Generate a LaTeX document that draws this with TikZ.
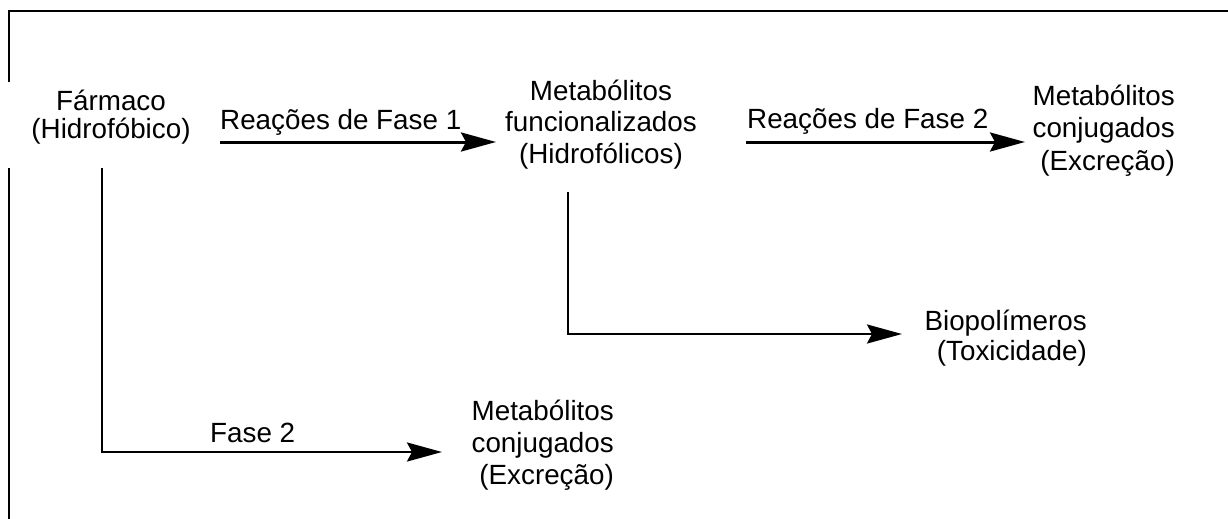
\documentclass[tikz,border=0pt]{standalone}
\usepackage{fontspec}
\setmainfont{Liberation Sans}
\usetikzlibrary{arrows.meta}
\begin{document}
\begin{tikzpicture}[x=1pt,y=-1pt,
  txt/.style={font=\fontsize{27.8}{32}\selectfont, inner sep=0pt},
  frameline/.style={line width=1.8pt},
  vline/.style={line width=2pt},
  arr/.style={line width=3pt, -{Stealth[length=35pt,width=19pt,inset=5pt]}},
  elbowarr/.style={line width=2.6pt, -{Stealth[length=35pt,width=19pt,inset=5pt]}}
]
\useasboundingbox (0,0) rectangle (1228,519);
% frame
\draw[frameline] (9,82) -- (9,11) -- (1228,11);
\draw[frameline] (9,168) -- (9,519);
% nodes (base anchor = baseline of last line)
\node[txt, anchor=base, align=center, font=\fontsize{27.8}{28}\selectfont] (farm) at (111,138) {Fármaco\\(Hidrofóbico)};
\node[txt, anchor=base, align=center, font=\fontsize{27.8}{31.3}\selectfont] (mid) at (601,163) {Metabólitos\\funcionalizados\\(Hidrofólicos)};
\node[txt, anchor=base east, align=right, font=\fontsize{27.8}{32.5}\selectfont] (conjR) at (1175,170) {Metabólitos\\conjugados\\(Excreção)};
\node[txt, anchor=base east, align=right, font=\fontsize{27.8}{30}\selectfont] (bio) at (1087,360) {Biopolímeros\\(Toxicidade)};
\node[txt, anchor=base east, align=right, font=\fontsize{27.8}{32}\selectfont] (conjB) at (614,484) {Metabólitos\\conjugados\\(Excreção)};
% labels
\node[txt, anchor=base west] (l1) at (220,129.5) {Reações de Fase 1};
\node[txt, anchor=base west] (l2) at (747,128.5) {Reações de Fase 2};
\node[txt, anchor=base west] (l3) at (210,442) {Fase 2};
% connector points
\coordinate (a1s) at (220,142);
\coordinate (a1e) at (496,142);
\coordinate (a2s) at (746,142);
\coordinate (a2e) at (1025,142);
\coordinate (m1) at (568,192);
\coordinate (m2) at (902,334);
\coordinate (f1) at (102,168);
\coordinate (f2) at (442,452);
% connectors
\draw[arr] (a1s) -- (a1e);
\draw[arr] (a2s) -- (a2e);
\draw[vline] (m1) -- (m1 |- m2);
\draw[elbowarr] ([xshift=-1pt]m1 |- m2) -- (m2);
\draw[vline] (f1) -- (f1 |- f2);
\draw[elbowarr] ([xshift=-1pt]f1 |- f2) -- (f2);
\end{tikzpicture}
\end{document}
